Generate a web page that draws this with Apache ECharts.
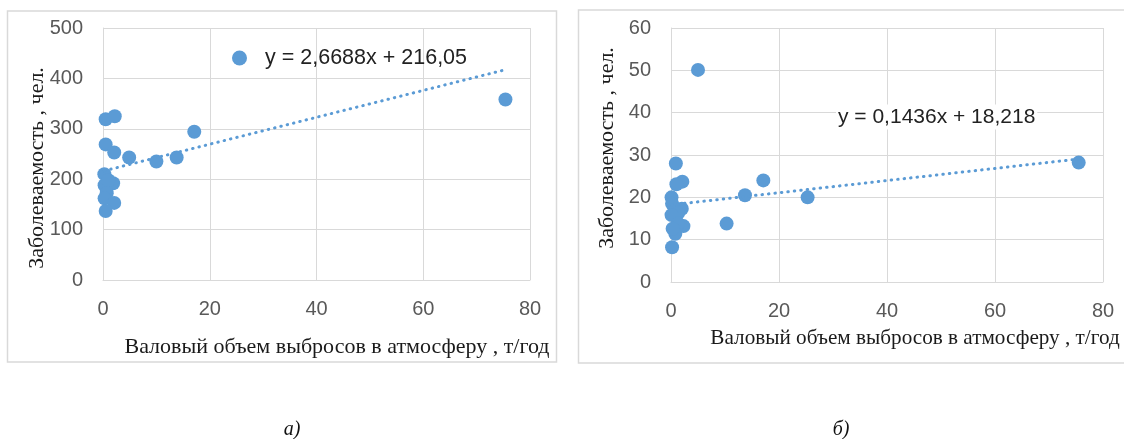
<!DOCTYPE html>
<html>
<head>
<meta charset="utf-8">
<script src="https://cdn.jsdelivr.net/npm/echarts@6/dist/echarts.min.js"></script>
<style>
html,body{margin:0;padding:0;background:#fff;}
#c{width:1124px;height:439px;}
</style>
</head>
<body>
<div id="c"></div>
<script>
// Panel а)
const xA = [0.5, 2.2, 0.5, 2.1, 4.9, 10.0, 13.8, 17.1, 75.4, 0.25, 0.3, 1.9, 1.0, 0.7, 0.3, 2.1, 0.5];
const yA = [319, 325, 269, 253, 243, 235, 243, 294, 358, 210, 188, 192, 198, 172, 162, 153, 137];
const slopeA = 2.6688, interceptA = 216.05;
const eqA = 'y = 2,6688x + 216,05';
// Panel б)
const xB = [0.9, 2.1, 1.0, 0.1, 0.2, 2.0, 1.3, 0.1, 2.3, 1.3, 0.8, 0.3, 0.2, 10.3, 13.7, 17.1, 5.0, 25.3, 75.5];
const yB = [28.0, 23.7, 23.1, 20.0, 18.5, 17.3, 16.2, 15.8, 13.2, 13.8, 11.4, 12.6, 8.2, 13.8, 20.5, 24.0, 50.1, 20.0, 28.2];
const slopeB = 0.1436, interceptB = 18.218;
const eqB = 'y = 0,1436x + 18,218';
// Axes
const xTicks = [0, 20, 40, 60, 80];
const yTicksA = [0, 100, 200, 300, 400, 500];
const yTicksB = [0, 10, 20, 30, 40, 50, 60];
const xTitle = 'Валовый объем выбросов в атмосферу , т/год';
const yTitle = 'Заболеваемость , чел.';
const captions = ['а)', 'б)'];

const BLUE = '#5B9BD5';
const GRID = '#d9d9d9';
const TICK = '#595959';
const SANS = 'Liberation Sans';

function pts(xs, ys) { return xs.map((x, i) => [x, ys[i]]); }
function trend(xs, k, b) {
  const lo = Math.min(...xs), hi = Math.max(...xs);
  return [[lo, k * lo + b], [hi, k * hi + b]];
}
function xAxisCfg(gi) {
  return {
    gridIndex: gi, type: 'value', min: xTicks[0], max: xTicks[xTicks.length - 1],
    interval: xTicks[1] - xTicks[0],
    axisLine: { show: true, lineStyle: { color: GRID, width: 1 } },
    axisTick: { show: false },
    splitLine: { show: true, lineStyle: { color: GRID, width: 1 } },
    axisLabel: { color: TICK, fontFamily: SANS, fontSize: 20, margin: 19 }
  };
}
function yAxisCfg(gi, ticks) {
  return {
    gridIndex: gi, type: 'value', min: ticks[0], max: ticks[ticks.length - 1],
    interval: ticks[1] - ticks[0],
    axisLine: { show: true, lineStyle: { color: GRID, width: 1 } },
    axisTick: { show: false },
    splitLine: { show: true, lineStyle: { color: GRID, width: 1 } },
    axisLabel: { color: TICK, fontFamily: SANS, fontSize: 20, margin: 20 }
  };
}
const dotted = { color: BLUE, width: 3, type: [0.5, 6], cap: 'round' };
const titleFont = '22px "Liberation Serif"';

const chart = echarts.init(document.getElementById('c'), null, { renderer: 'canvas' });
chart.setOption({
  backgroundColor: '#fff',
  animation: false,
  grid: [
    { left: 103, top: 28, width: 427, height: 252 },
    { left: 671, top: 28, width: 432, height: 254 }
  ],
  xAxis: [xAxisCfg(0), xAxisCfg(1)],
  yAxis: [yAxisCfg(0, yTicksA), yAxisCfg(1, yTicksB)],
  legend: {
    data: [eqA], left: 227, top: 42, itemWidth: 15, itemHeight: 15, icon: 'circle',
    textStyle: { color: '#222', fontFamily: SANS, fontSize: 21.5, padding: [0, 0, 0, 13] }
  },
  series: [
    { name: eqA, type: 'scatter', xAxisIndex: 0, yAxisIndex: 0, data: pts(xA, yA),
      symbolSize: 14, itemStyle: { color: BLUE, opacity: 1 }, z: 2 },
    { name: 'trendA', type: 'line', xAxisIndex: 0, yAxisIndex: 0, data: trend(xA, slopeA, interceptA),
      showSymbol: false, symbol: 'none', lineStyle: dotted, z: 3, silent: true },
    { name: 'pointsB', type: 'scatter', xAxisIndex: 1, yAxisIndex: 1, data: pts(xB, yB),
      symbolSize: 14, itemStyle: { color: BLUE, opacity: 1 }, z: 2 },
    { name: 'trendB', type: 'line', xAxisIndex: 1, yAxisIndex: 1, data: trend(xB, slopeB, interceptB),
      showSymbol: false, symbol: 'none', lineStyle: dotted, z: 3, silent: true }
  ],
  graphic: [
    { type: 'rect', shape: { x: 7.5, y: 11, width: 549, height: 351 }, style: { fill: 'none', stroke: GRID, lineWidth: 1.5 }, z: -1 },
    { type: 'rect', shape: { x: 578.5, y: 10, width: 560, height: 353 }, style: { fill: 'none', stroke: GRID, lineWidth: 1.5 }, z: -1 },
    { type: 'text', x: 37, y: 168, rotation: Math.PI / 2,
      style: { text: yTitle, fill: '#1a1a1a', font: titleFont, align: 'center', verticalAlign: 'middle' } },
    { type: 'text', x: 607, y: 148, rotation: Math.PI / 2,
      style: { text: yTitle, fill: '#1a1a1a', font: titleFont, align: 'center', verticalAlign: 'middle' } },
    { type: 'text', x: 337, y: 347,
      style: { text: xTitle, fill: '#1a1a1a', font: titleFont, align: 'center', verticalAlign: 'middle' } },
    { type: 'text', x: 915, y: 338,
      style: { text: xTitle, fill: '#1a1a1a', font: '21.2px "Liberation Serif"', align: 'center', verticalAlign: 'middle' } },
    { type: 'text', x: 836, y: 117, z: 10,
      style: { text: eqB, fill: '#222', font: '21px "Liberation Sans"', align: 'left', verticalAlign: 'middle',
               backgroundColor: '#fff', padding: [2, 2, 2, 2] } },
    { type: 'text', x: 292, y: 430,
      style: { text: captions[0], fill: '#111', font: 'italic 20px "Liberation Serif"', align: 'center', verticalAlign: 'middle' } },
    { type: 'text', x: 841, y: 430,
      style: { text: captions[1], fill: '#111', font: 'italic 20px "Liberation Serif"', align: 'center', verticalAlign: 'middle' } }
  ]
});
</script>
</body>
</html>
